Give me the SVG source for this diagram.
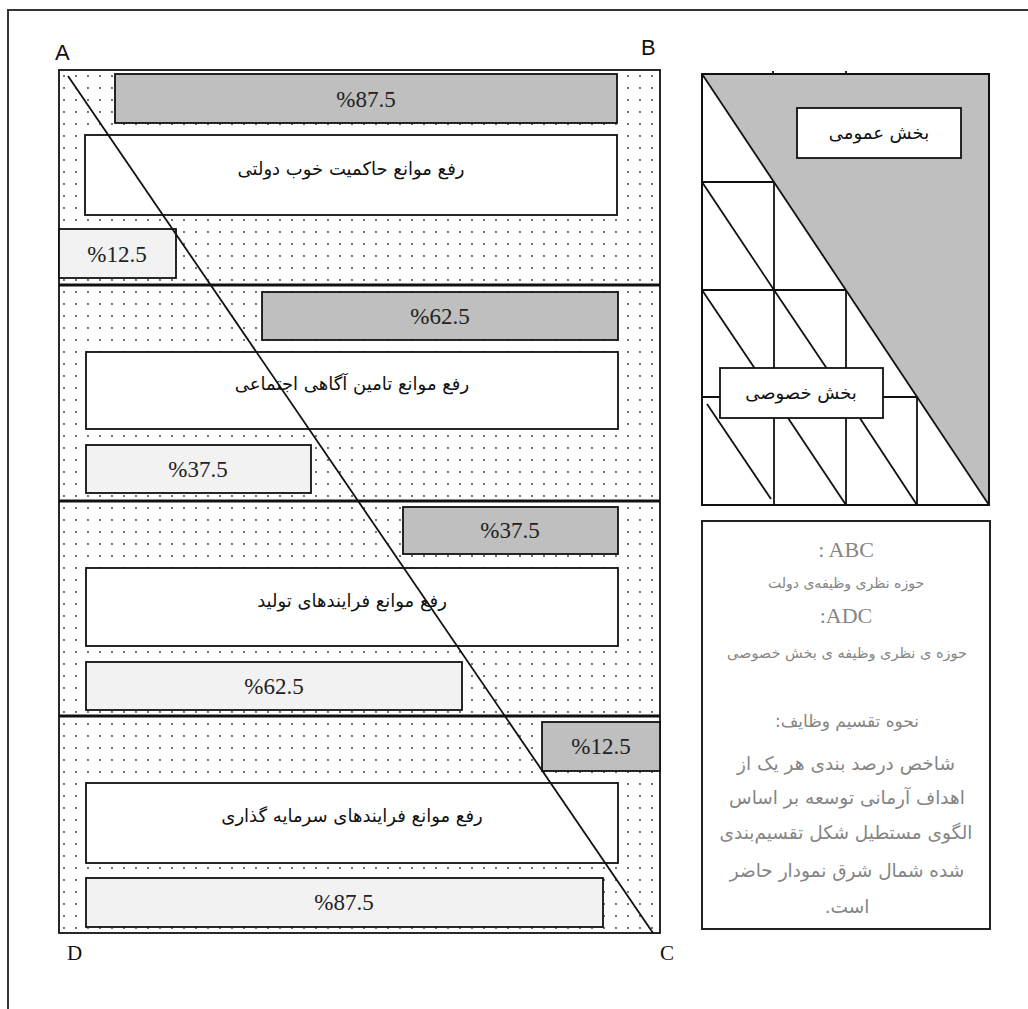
<svg xmlns="http://www.w3.org/2000/svg" width="1028" height="1009" viewBox="0 0 1028 1009">
<style>
.frame{fill:none;stroke:#333;stroke-width:2}
.box{stroke:#111;stroke-width:1.8}
.dark{fill:#bfbfbf}
.light{fill:#f2f2f2}
.white{fill:#fff}
.pct{font-family:"Liberation Serif",serif;font-size:23px;fill:#222;text-anchor:middle}
.fa{font-family:"DejaVu Sans","Noto Sans",sans-serif;font-size:18px;fill:#111;text-anchor:middle}
.lbl{font-family:"Liberation Sans",sans-serif;font-size:22px;fill:#111}
.lbls{font-family:"Liberation Serif",serif;font-size:21px;fill:#111}
.ln{stroke:#111;stroke-width:1.8;fill:none}
.div{stroke:#111;stroke-width:3.2}
.leg{font-family:"DejaVu Sans","Noto Sans",sans-serif;fill:#858585;text-anchor:middle}
.legl{font-family:"Liberation Serif",serif;fill:#858585;text-anchor:middle;font-size:22px}
</style>
<defs>
<pattern id="dots" width="12" height="12" patternUnits="userSpaceOnUse">
<rect width="12" height="12" fill="#fff"/>
<circle cx="4" cy="4" r="0.9" fill="#333"/>
</pattern>
</defs>
<rect width="1028" height="1009" fill="#fff"/>
<g id="outer-frame">
<line x1="8" y1="10" x2="1028" y2="10" class="frame"/>
<line x1="8" y1="9" x2="8" y2="1009" class="frame"/>
</g>
<g id="labels">
<text class="lbl" x="55" y="60">A</text>
<text class="lbl" x="641" y="55">B</text>
<text class="lbls" x="67" y="960">D</text>
<text class="lbls" x="660" y="960">C</text>
</g>
<g id="main">
<rect x="59" y="70" width="601" height="863" fill="url(#dots)" class="box" stroke-width="2"/>
<g id="section1">
<rect class="box dark" x="115" y="74" width="502" height="49"/>
<text class="pct" x="366" y="107">%87.5</text>
<rect class="box white" x="85" y="135" width="532" height="80"/>
<text class="fa" x="351" y="175" direction="rtl">رفع موانع حاکمیت خوب دولتی</text>
<rect class="box light" x="59" y="229" width="117" height="49"/>
<text class="pct" x="117" y="262">%12.5</text>
</g>
<g id="section2">
<rect class="box dark" x="262" y="292" width="356" height="48"/>
<text class="pct" x="440" y="324">%62.5</text>
<rect class="box white" x="86" y="352" width="532" height="77"/>
<text class="fa" x="352" y="390" direction="rtl">رفع موانع تامین آگاهی اجتماعی</text>
<rect class="box light" x="86" y="445" width="225" height="48"/>
<text class="pct" x="198" y="477">%37.5</text>
</g>
<g id="section3">
<rect class="box dark" x="403" y="507" width="215" height="47"/>
<text class="pct" x="510" y="538">%37.5</text>
<rect class="box white" x="86" y="568" width="532" height="78"/>
<text class="fa" x="352" y="607" direction="rtl">رفع موانع فرایندهای تولید</text>
<rect class="box light" x="86" y="662" width="376" height="48"/>
<text class="pct" x="274" y="694">%62.5</text>
</g>
<g id="section4">
<rect class="box dark" x="542" y="722" width="118" height="49"/>
<text class="pct" x="601" y="754">%12.5</text>
<rect class="box white" x="86" y="783" width="532" height="80"/>
<text class="fa" x="352" y="822" direction="rtl">رفع موانع فرایندهای سرمایه گذاری</text>
<rect class="box light" x="86" y="878" width="517" height="49"/>
<text class="pct" x="344" y="910">%87.5</text>
</g>
<line class="div" x1="59" y1="285" x2="660" y2="285"/>
<line class="div" x1="59" y1="501" x2="660" y2="501"/>
<line class="div" x1="59" y1="716" x2="660" y2="716"/>
</g>
<g id="connectors">
<line class="ln" x1="68" y1="76" x2="653" y2="933"/>
</g>
<g id="sector-panel">
<rect x="702" y="74" width="287" height="431" fill="#fff"/>
<polygon points="702,74 989,74 989,505" fill="#bfbfbf"/>
<line class="ln" x1="702" y1="74" x2="989" y2="505"/>
<line class="ln" x1="702" y1="182" x2="774" y2="182"/>
<line class="ln" x1="702" y1="290" x2="846" y2="290"/>
<line class="ln" x1="702" y1="397" x2="917" y2="397"/>
<line class="ln" x1="774" y1="182" x2="774" y2="505"/>
<line class="ln" x1="846" y1="290" x2="846" y2="505"/>
<line class="ln" x1="917" y1="397" x2="917" y2="505"/>
<line class="ln" x1="702" y1="182" x2="774" y2="290"/>
<line class="ln" x1="702" y1="290" x2="774" y2="397"/>
<line class="ln" x1="774" y1="290" x2="846" y2="397"/>
<line class="ln" x1="707" y1="404" x2="771" y2="499"/>
<line class="ln" x1="774" y1="397" x2="846" y2="505"/>
<line class="ln" x1="846" y1="397" x2="917" y2="505"/>
<line class="ln" x1="773" y1="71" x2="773" y2="74"/>
<line class="ln" x1="846" y1="71" x2="846" y2="74"/>
<rect x="702" y="74" width="287" height="431" fill="none" stroke="#111" stroke-width="2"/>
<g id="public-sector">
<rect class="box white" x="797" y="108" width="164" height="50"/>
<text class="fa" x="879" y="139" font-size="15" direction="rtl">بخش عمومی</text>
</g>
<g id="private-sector">
<rect class="box white" x="720" y="368" width="163" height="50"/>
<text class="fa" x="801" y="399" font-size="15.5" direction="rtl">بخش خصوصی</text>
</g>
</g>
<g id="legend">
<rect x="702" y="521" width="288" height="408" fill="#fff" stroke="#222" stroke-width="2"/>
<text class="legl" x="846" y="557">: ABC</text>
<text class="leg" x="846" y="588" font-size="14" direction="rtl">حوزه نظری وظیفه‌ی دولت</text>
<text class="legl" x="846" y="623">:ADC</text>
<text class="leg" x="847" y="658" font-size="14.5" direction="rtl">حوزه ی نظری وظیفه ی بخش خصوصی</text>
<text class="leg" x="847" y="727" font-size="17" direction="rtl">نحوه تقسیم وظایف:</text>
<text class="leg" x="846" y="770" font-size="18.5" direction="rtl">شاخص درصد بندی هر یک از</text>
<text class="leg" x="847" y="804" font-size="18.5" direction="rtl">اهداف آرمانی توسعه بر اساس</text>
<text class="leg" x="846" y="839" font-size="18.5" direction="rtl">الگوی مستطیل شکل تقسیم‌بندی</text>
<text class="leg" x="847" y="877" font-size="18.5" direction="rtl">شده شمال شرق نمودار حاضر</text>
<text class="leg" x="847" y="913" font-size="18.5" direction="rtl">است.</text>
</g>
</svg>
